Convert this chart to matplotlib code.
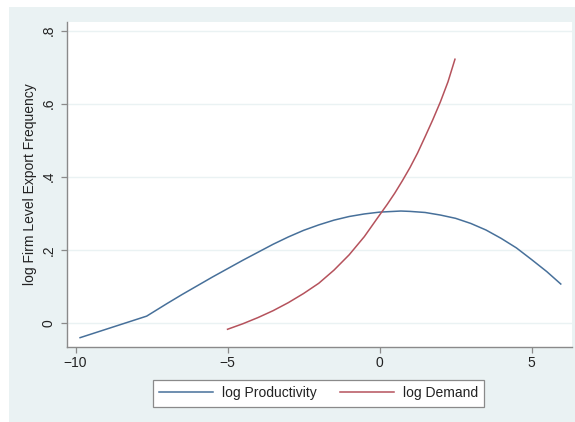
import matplotlib

matplotlib.use("Agg")
import matplotlib.pyplot as plt
from matplotlib.patches import Rectangle

# values
prod_x = [-9.85, -7.66, -7.0, -6.5, -6.0, -5.5, -5.0, -4.5, -4.0, -3.5, -3.0, -2.5, -2.0,
          -1.5, -1.0, -0.5, 0.0, 0.7, 1.0, 1.5, 2.0, 2.5, 3.0, 3.5, 4.0, 4.5, 5.0, 5.5, 5.96]
prod_y = [-0.041, 0.018, 0.052, 0.077, 0.101, 0.125, 0.148, 0.171, 0.193, 0.215, 0.235, 0.253, 0.268,
          0.281, 0.291, 0.298, 0.303, 0.306, 0.305, 0.302, 0.295, 0.286, 0.272, 0.254, 0.231, 0.205,
          0.173, 0.140, 0.106]

dem_x = [-5.0, -4.5, -4.0, -3.5, -3.0, -2.5, -2.0, -1.5, -1.0, -0.5, 0.0, 0.25, 0.5, 0.75,
         1.0, 1.25, 1.5, 1.75, 2.0, 2.25, 2.48]
dem_y = [-0.018, -0.003, 0.014, 0.033, 0.055, 0.080, 0.108, 0.144, 0.186, 0.236, 0.295, 0.324,
         0.355, 0.389, 0.425, 0.465, 0.510, 0.556, 0.605, 0.660, 0.722]

x_ticks = [-10, -5, 0, 5]
y_ticks = [0, 0.2, 0.4, 0.6, 0.8]
y_tick_labels = ["0", ".2", ".4", ".6", ".8"]

plt.rcParams["font.family"] = ["Liberation Sans", "DejaVu Sans"]
plt.rcParams["font.size"] = 10

bg = "#eaf2f3"
axis_col = "#8a8a8a"
txt_col = "#222222"

fig = plt.figure(figsize=(5.75, 4.22), dpi=100, facecolor="white")
# stata-style light background (small white margin at top and left)
fig.patches.append(Rectangle((9 / 575, 0), 1, 1 - 7 / 422, transform=fig.transFigure,
                             facecolor=bg, edgecolor="none", zorder=-10))

ax = fig.add_axes([0.116, 0.1784, 0.8783, 0.7701])
ax.set_facecolor("white")

ax.plot(prod_x, prod_y, color="#47709a", lw=1.1, label="log Productivity")
ax.plot(dem_x, dem_y, color="#b5525c", lw=1.1, label="log Demand")

ax.set_xlim(-10.29, 6.32)
ax.set_ylim(-0.0658, 0.8247)
ax.set_xticks(x_ticks)
ax.set_xticklabels(["\u2212" + str(abs(v)) if v < 0 else str(v) for v in x_ticks])
ax.set_yticks(y_ticks)
ax.set_yticklabels(y_tick_labels, rotation=90, va="center")

ax.grid(axis="y", color=bg, lw=1.0)
ax.set_axisbelow(True)

for side in ["top", "right"]:
    ax.spines[side].set_visible(False)
for side in ["left", "bottom"]:
    ax.spines[side].set_color(axis_col)
    ax.spines[side].set_linewidth(1.0)

ax.tick_params(axis="both", colors=axis_col, labelcolor=txt_col, length=4, width=0.9)
ax.tick_params(axis="x", pad=2.5)
ax.tick_params(axis="y", pad=4)

ax.set_ylabel("log Firm Level Export Frequency", color=txt_col)
ax.yaxis.set_label_coords(-0.058, 0.5)

leg = fig.legend(loc="center", bbox_to_anchor=(0.554, 0.068), ncol=2, frameon=True,
                 fancybox=False, edgecolor=axis_col, facecolor="white", framealpha=1,
                 handlelength=3.9, handletextpad=0.65, columnspacing=1.65,
                 borderpad=0.45, fontsize=10)
leg.get_frame().set_linewidth(0.9)
for t in leg.get_texts():
    t.set_color(txt_col)

fig.savefig("out.png", dpi=100, facecolor=fig.get_facecolor())
